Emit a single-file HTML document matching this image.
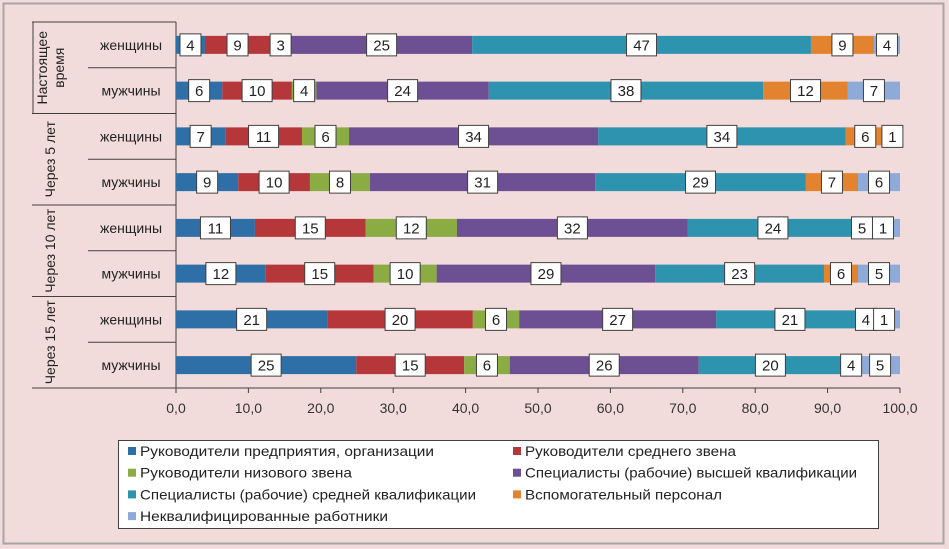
<!DOCTYPE html>
<html><head><meta charset="utf-8"><style>
html,body{margin:0;padding:0;background:#f2dcdb;}
svg{display:block;font-family:"Liberation Sans",sans-serif;}
</style></head><body>
<svg id="chart" width="949" height="549" viewBox="0 0 949 549">
<rect x="0" y="0" width="949" height="549" fill="#f2dcdb"/>
<rect x="3.5" y="3.5" width="940" height="540" fill="none" stroke="#a6a6a6" stroke-width="2"/>
<g id="axes"></g>
<g id="bars"></g>
<g id="labels"></g>
<g id="legend"></g>
</svg>
<script>
const NS="http://www.w3.org/2000/svg";
const rows=["женщины","мужчины","женщины","мужчины","женщины","мужчины","женщины","мужчины"];
const groups=["Настоящее время","Через 5 лет","Через 10 лет","Через 15 лет"];
const seriesNames=["Руководители предприятия, организации","Руководители среднего звена","Руководители низового звена","Специалисты (рабочие) высшей квалификации","Специалисты (рабочие) средней квалификации","Вспомогательный персонал","Неквалифицированные работники"];
const colors=["#2e6fa8","#b5373a","#8aac43","#6d4f93","#2e93ae","#e3822f","#8eaad8"];
const s1=[4.0,6.4,6.8,8.6,10.9,12.4,20.9,24.9];
const s2=[9.0,9.6,10.6,9.9,15.3,14.9,20.1,14.9];
const s3=[2.9,3.4,6.5,8.3,12.6,8.7,6.4,6.3];
const s4=[25.0,23.8,34.4,31.1,31.9,30.2,27.2,26.1];
const s5=[46.8,37.9,34.2,29.1,23.5,23.3,20.4,19.8];
const s6=[8.7,11.7,5.4,7.2,1.1,4.7,0.6,2.5];
const s7=[3.6,7.2,2.1,5.8,4.7,5.8,4.4,5.5];
const l1=["4","6","7","9","11","12","21","25"];
const l2=["9","10","11","10","15","15","20","15"];
const l3=["3","4","6","8","12","10","6","6"];
const l4=["25","24","34","31","32","29","27","26"];
const l5=["47","38","34","29","24","23","21","20"];
const l6=["9","12","6","7","5","6","4","4"];
const l7=["4","7","1","6","1","5","1","5"];
const xTicks=[0,10,20,30,40,50,60,70,80,90,100];
const xTickLabels=["0,0","10,0","20,0","30,0","40,0","50,0","60,0","70,0","80,0","90,0","100,0"];
const series=[s1,s2,s3,s4,s5,s6,s7];
const labs=[l1,l2,l3,l4,l5,l6,l7];
const X0=176,X1=900,Y0=22,Y1=388;
const xS=v=>X0+(v/100)*(X1-X0);
const rowH=(Y1-Y0)/rows.length;
const yC=i=>Y0+rowH*(i+0.5);
function mk(t,a,p){const e=document.createElementNS(NS,t);for(const k in a)e.setAttribute(k,a[k]);p.appendChild(e);return e;}
const axes=document.getElementById('axes'),bars=document.getElementById('bars'),labels=document.getElementById('labels'),legend=document.getElementById('legend');
let e=mk('line',{x1:X0,y1:Y0,x2:X0,y2:Y1+5,stroke:'#404040','stroke-width':1},axes);


e=mk('line',{x1:X0,y1:Y1,x2:X1,y2:Y1,stroke:'#404040','stroke-width':1},axes);


xTicks.forEach((t,i)=>{
  const tk=mk('line',{x1:xS(t),y1:Y1,x2:xS(t),y2:Y1+5,stroke:'#404040'},axes);
  
  
  const tl=mk('text',{x:xS(t),y:Y1+25,'text-anchor':'middle','font-size':14,fill:'#333'},axes);
  tl.textContent=xTickLabels[i];
  
  
});
for(let i=0;i<=rows.length;i++){
  const y=Y0+rowH*i;
  const ln=mk('line',{x1:(i%2===0)?32:88,y1:y,x2:X0,y2:y,stroke:'#404040'},axes);
  
  
}
const vl=mk('line',{x1:33,y1:Y0,x2:33,y2:Y0+rowH*2,stroke:'#404040'},axes);


rows.forEach((r,i)=>{
  const t=mk('text',{x:131,y:yC(i)+5,'text-anchor':'middle','font-size':14,fill:'#222'},axes);
  t.textContent=r;
  
  
});
groups.forEach((g,i)=>{
  const cy=Y0+rowH*(2*i+1);
  const t=mk('text',{transform:`translate(50,${cy}) rotate(-90)`,'text-anchor':'middle','font-size':14,fill:'#222'},axes);
  if(i===0){
    const a=mk('tspan',{x:0,y:-3},t);a.textContent="Настоящее";
    const b=mk('tspan',{x:0,y:14},t);b.textContent="время";
  } else {
    t.setAttribute('y',5);
    t.textContent=g;
  }
  
  
});
const bh=18;
rows.forEach((r,i)=>{
  let acc=0;
  series.forEach((s,k)=>{
    const v=s[i];
    const x=xS(acc),w=xS(acc+v)-xS(acc);
    const b=mk('rect',{x:x,y:yC(i)-bh/2,width:Math.max(w,0),height:bh,fill:colors[k]},bars);
    
    
    const cx=x+w/2;
    const txt=labs[k][i];
    const bw=txt.length>1?30:21;
    const bx=mk('rect',{x:cx-bw/2,y:yC(i)-11,width:bw,height:22,fill:'#fff',stroke:'#404040','stroke-width':1},labels);
    
    
    const tl=mk('text',{x:cx,y:yC(i)+5.5,'text-anchor':'middle','font-size':15,fill:'#222'},labels);
    tl.textContent=txt;
    
    
    acc+=v;
  });
});
const lb=mk('rect',{x:118.5,y:440.5,width:760,height:88,fill:'#fff',stroke:'#404040'},legend);


const lens=[294,211,212,332,336,197,248];
seriesNames.forEach((n,k)=>{
  const col=k%2,row=Math.floor(k/2);
  const x=col?513:128,y=451+row*21.7;
  const sw=mk('rect',{x:x,y:y-4,width:8,height:8,fill:colors[k]},legend);
  
  
  const t=mk('text',{x:x+12,y:y+5,'font-size':14,fill:'#222',textLength:lens[k],lengthAdjust:'spacingAndGlyphs'},legend);
  t.textContent=n;
  
  
});
</script>
</body></html>
